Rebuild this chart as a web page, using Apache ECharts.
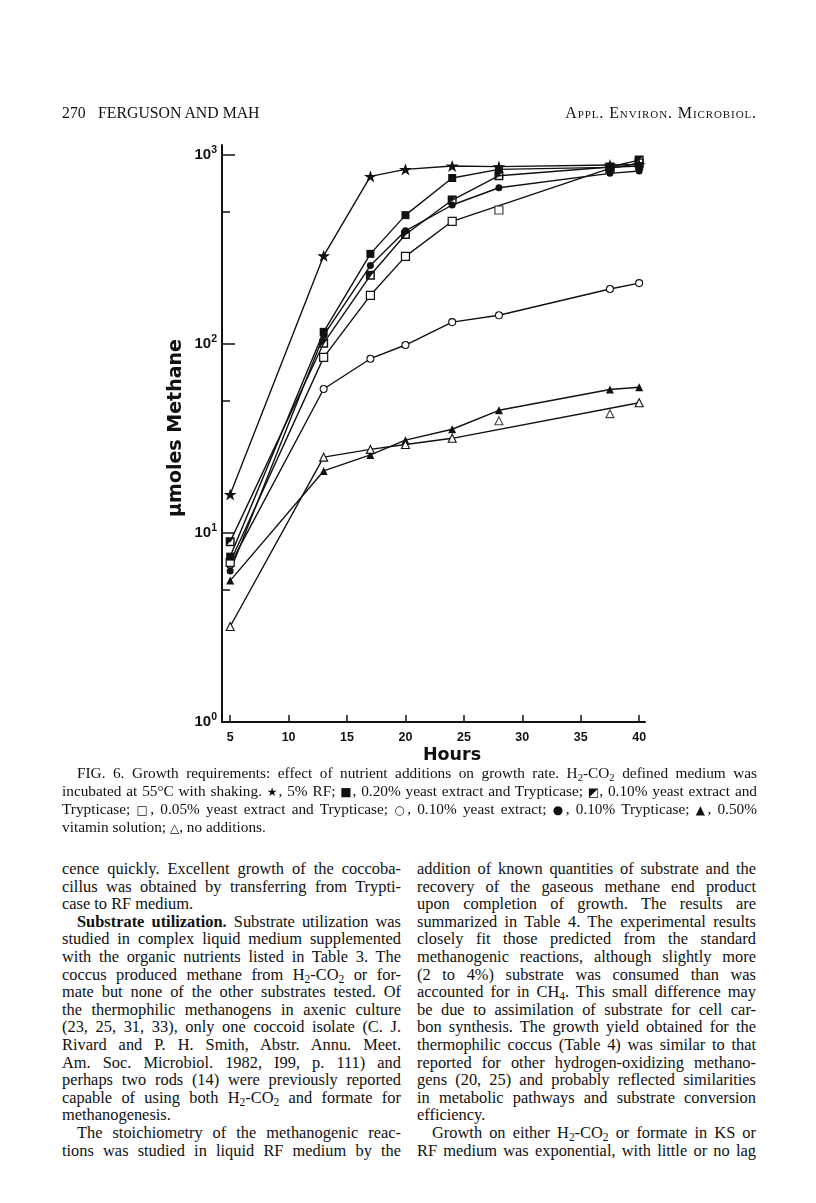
<!DOCTYPE html>
<html>
<head>
<meta charset="utf-8">
<script src="https://cdn.jsdelivr.net/npm/echarts@6/dist/echarts.min.js"></script>
<style>
  html, body { margin: 0; padding: 0; background: #fff; }
  #page { position: relative; width: 816px; height: 1203px; overflow: hidden; background: #fff; color: #111; }
  #chart { position: absolute; left: 0; top: 0; width: 816px; height: 800px; }
  .t { position: absolute; font-family: "Liberation Serif", "Times New Roman", serif; white-space: nowrap; transform-origin: 0 0; }
  .hdr { font-size: 15.8px; line-height: 18px; top: 104px; }
  .cap { font-size: 15.3px; line-height: 17.7px; width: 695px; left: 62px; }
  .body { font-size: 16.4px; line-height: 17.6px; width: 339px; }
  .j { text-align: justify; text-align-last: justify; }
  sub { font-size: 70%; vertical-align: -0.25em; line-height: 0; }
  .sym { font-family: "DejaVu Sans", sans-serif; font-size: 12px; }
</style>
</head>
<body>
<div id="page">
  <div id="chart"></div>

  <div class="t hdr" style="left:62px;">270</div>
  <div class="t hdr" style="left:98px;">FERGUSON AND MAH</div>
  <div class="t hdr" style="right:59px; font-size:16px; letter-spacing:0.9px; font-variant: small-caps;">Appl. Environ. Microbiol.</div>

  <div class="t cap j" style="top:764px; left:77px; width:680px;">FIG. 6. Growth requirements: effect of nutrient additions on growth rate. H<sub>2</sub>-CO<sub>2</sub> defined medium was</div>
  <div class="t cap j" style="top:782px;">incubated at 55°C with shaking. <span class="sym">★</span>, 5% RF; <span class="sym">■</span>, 0.20% yeast extract and Trypticase; <span class="sym">◩</span>, 0.10% yeast extract and</div>
  <div class="t cap j" style="top:800px;">Trypticase; <span class="sym">□</span>, 0.05% yeast extract and Trypticase; <span class="sym">○</span>, 0.10% yeast extract; <span class="sym">●</span>, 0.10% Trypticase; <span class="sym">▲</span>, 0.50%</div>
  <div class="t cap" style="top:818px;">vitamin solution; <span class="sym">△</span>, no additions.</div>

  <div id="colL"></div>
  <div id="colR"></div>
</div>

<script>
// ---------------- data ----------------
const hours = [5, 13, 17, 20, 24, 28, 37.5, 40];
const rf5 = [16, 293, 771, 840, 875, 868, 885, 890];
const yeTryp020 = [7.5, 116, 300, 481, 756, 840, 860, 875];
const yeTryp010 = [9.0, 101, 231, 380, 578, 777, 864, 940];
const yeTryp005 = [7.0, 85, 181, 291, 446, null, 850, 905];
const yeTryp005Loose = [null, null, null, null, null, 512, null, null];
const ye010 = [6.8, 57.8, 83.6, 98.8, 130.6, 141.9, 195.5, 210];
const tryp010 = [6.3, 111, 260, 397, 544, 671, 800, 823];
const vitamin050 = [5.6, 21.3, 25.9, 31.0, 35.4, 44.6, 57.5, 59.1];
const noAdd = [3.2, 25.2, 27.7, 29.4, 31.7, null, null, 48.9];
const noAddLoose = [null, null, null, null, null, 39.3, 42.8, null];

const xTickValues = [5, 10, 15, 20, 25, 30, 35, 40];
const yMajorTicks = [1, 10, 100, 1000];
const yMinorTicks = [5, 50, 500];
const yExponents = {1: '0', 10: '1', 100: '2', 1000: '3'};

// ---------------- body text ----------------
const leftLines = [
  ['cence quickly. Excellent growth of the coccoba-', 1, 0],
  ['cillus was obtained by transferring from Trypti-', 1, 0],
  ['case to RF medium.', 0, 0],
  ['<b>Substrate utilization.</b> Substrate utilization was', 1, 1],
  ['studied in complex liquid medium supplemented', 1, 0],
  ['with the organic nutrients listed in Table 3. The', 1, 0],
  ['coccus produced methane from H<sub>2</sub>-CO<sub>2</sub> or for-', 1, 0],
  ['mate but none of the other substrates tested. Of', 1, 0],
  ['the thermophilic methanogens in axenic culture', 1, 0],
  ['(23, 25, 31, 33), only one coccoid isolate (C. J.', 1, 0],
  ['Rivard and P. H. Smith, Abstr. Annu. Meet.', 1, 0],
  ['Am. Soc. Microbiol. 1982, I99, p. 111) and', 1, 0],
  ['perhaps two rods (14) were previously reported', 1, 0],
  ['capable of using both H<sub>2</sub>-CO<sub>2</sub> and formate for', 1, 0],
  ['methanogenesis.', 0, 0],
  ['The stoichiometry of the methanogenic reac-', 1, 1],
  ['tions was studied in liquid RF medium by the', 1, 0]
];
const rightLines = [
  ['addition of known quantities of substrate and the', 1, 0],
  ['recovery of the gaseous methane end product', 1, 0],
  ['upon completion of growth. The results are', 1, 0],
  ['summarized in Table 4. The experimental results', 1, 0],
  ['closely fit those predicted from the standard', 1, 0],
  ['methanogenic reactions, although slightly more', 1, 0],
  ['(2 to 4%) substrate was consumed than was', 1, 0],
  ['accounted for in CH<sub>4</sub>. This small difference may', 1, 0],
  ['be due to assimilation of substrate for cell car-', 1, 0],
  ['bon synthesis. The growth yield obtained for the', 1, 0],
  ['thermophilic coccus (Table 4) was similar to that', 1, 0],
  ['reported for other hydrogen-oxidizing methano-', 1, 0],
  ['gens (20, 25) and probably reflected similarities', 1, 0],
  ['in metabolic pathways and substrate conversion', 1, 0],
  ['efficiency.', 0, 0],
  ['Growth on either H<sub>2</sub>-CO<sub>2</sub> or formate in KS or', 1, 1],
  ['RF medium was exponential, with little or no lag', 1, 0]
];
function placeColumn(lines, left, holder) {
  const el = document.getElementById(holder);
  lines.forEach((ln, i) => {
    const d = document.createElement('div');
    d.className = 't body' + (ln[1] ? ' j' : '');
    const indent = ln[2] ? 15 : 0;
    d.style.left = (left + indent) + 'px';
    d.style.width = (339 - indent) + 'px';
    d.style.top = (860 + i * 17.6) + 'px';
    d.innerHTML = ln[0];
    el.appendChild(d);
  });
}
placeColumn(leftLines, 62, 'colL');
placeColumn(rightLines, 417, 'colR');

// squeeze justified lines whose natural width exceeds their box
function fitLines() {
  document.querySelectorAll('.j').forEach(d => {
    const target = parseFloat(getComputedStyle(d).width);
    d.style.width = 'auto';
    d.style.textAlign = 'left';
    d.style.textAlignLast = 'auto';
    const natural = d.getBoundingClientRect().width;
    d.style.textAlign = '';
    d.style.textAlignLast = '';
    if (natural > target) {
      d.style.width = natural + 'px';
      d.style.transform = 'scaleX(' + (target / natural) + ')';
    } else {
      d.style.width = target + 'px';
    }
  });
}
fitLines();

// ---------------- chart ----------------
const starPath = 'path://M50,0 L61.8,35.5 L100,35.5 L69.1,57.4 L80.9,93 L50,71 L19.1,93 L30.9,57.4 L0,35.5 L38.2,35.5 Z';
const halfSquarePath = 'path://M0,0 L10,0 L10,10 L0,10 Z M1.6,1.6 L1.6,8.4 L8.4,8.4 L8.4,1.6 Z M1.6,1.6 L8.4,1.6 L1.6,8.4 Z';

function pairs(vals) {
  return hours.map((h, i) => [h, vals[i]]).filter(p => p[1] !== null);
}
function mk(type, name, vals, symbol, size, fill, border) {
  return {
    type: type, name: name, data: pairs(vals),
    symbol: symbol, symbolSize: size, symbolKeepAspect: true,
    showSymbol: true,
    lineStyle: { color: '#111', width: 1.4 },
    itemStyle: { color: fill, borderColor: '#111', borderWidth: border },
    emphasis: { disabled: true },
    z: 3
  };
}

const chart = echarts.init(document.getElementById('chart'), null, { renderer: 'canvas' });
chart.setOption({
  animation: false,
  backgroundColor: 'transparent',
  grid: { left: 222, top: 145, width: 423, height: 577, containLabel: false },
  xAxis: {
    type: 'value', min: 4.3, max: 40.5,
    axisLine: { show: true, lineStyle: { color: '#111', width: 2 } },
    axisTick: { show: true, inside: true, length: 7, lineStyle: { color: '#111', width: 1.5 }, customValues: xTickValues },
    axisLabel: { customValues: xTickValues, margin: 9, color: '#111', fontFamily: 'Liberation Sans, Arial, sans-serif', fontWeight: 'bold', fontSize: 12.5 },
    splitLine: { show: false }
  },
  yAxis: [{
    type: 'log', min: 1, max: 1130, logBase: 10,
    axisLine: { show: true, lineStyle: { color: '#111', width: 2 } },
    axisTick: { show: true, inside: true, length: 13, lineStyle: { color: '#111', width: 1.5 }, customValues: yMajorTicks },
    axisLabel: {
      customValues: yMajorTicks, margin: 5, color: '#111',
      formatter: v => '{b|10}{s|' + yExponents[Math.round(v)] + '}',
      rich: {
        b: { fontFamily: 'Liberation Sans, Arial, sans-serif', fontWeight: 'bold', fontSize: 15, color: '#111' },
        s: { fontFamily: 'Liberation Sans, Arial, sans-serif', fontWeight: 'bold', fontSize: 10.5, color: '#111', padding: [0, 0, 10, 0] }
      }
    },
    splitLine: { show: false }
  }, {
    type: 'log', min: 1, max: 1130, logBase: 10, position: 'left',
    axisLine: { show: false },
    axisTick: { show: true, inside: true, length: 8, lineStyle: { color: '#111', width: 1.5 }, customValues: yMinorTicks },
    axisLabel: { show: false },
    splitLine: { show: false }
  }],
  graphic: [
    { type: 'text', x: 176, y: 428, rotation: Math.PI / 2,
      style: { text: 'μmoles Methane', fill: '#111', font: 'bold 19px "DejaVu Sans", sans-serif', align: 'center', verticalAlign: 'middle' } },
    { type: 'text', x: 452, y: 755,
      style: { text: 'Hours', fill: '#111', font: 'bold 17.5px "DejaVu Sans", sans-serif', align: 'center', verticalAlign: 'middle' } }
  ],
  series: [
    mk('line', '0.50% vitamin solution', vitamin050, 'triangle', 8, '#111', 0),
    mk('line', 'no additions', noAdd, 'triangle', 8, '#fff', 1.1),
    mk('scatter', 'no additions (unjoined)', noAddLoose, 'triangle', 8, '#fff', 1.1),
    mk('line', '0.10% yeast extract', ye010, 'circle', 7, '#fff', 1.1),
    mk('line', '0.05% yeast extract and Trypticase', yeTryp005, 'rect', 8, '#fff', 1.2),
    mk('scatter', '0.05% yeast extract and Trypticase (unjoined)', yeTryp005Loose, 'rect', 8, '#fff', 1.2),
    mk('line', '0.10% Trypticase', tryp010, 'circle', 7, '#111', 0),
    mk('line', '0.10% yeast extract and Trypticase', yeTryp010, halfSquarePath, 9, '#111', 0),
    mk('line', '0.20% yeast extract and Trypticase', yeTryp020, 'rect', 8, '#111', 0),
    mk('line', '5% RF', rf5, starPath, 13, '#111', 0)
  ]
});
</script>
</body>
</html>
